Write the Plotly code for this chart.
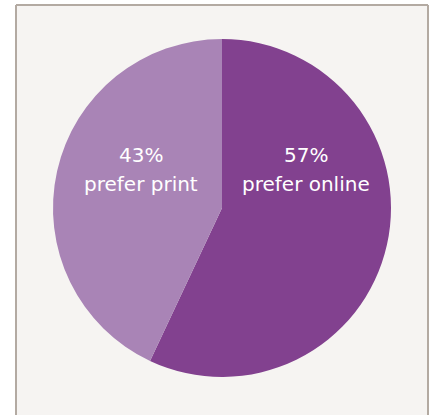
import plotly.graph_objs as go

labels = ['prefer online', 'prefer print']
values = [57, 43]
colors = ['#82418f', '#a984b6']

W, H = 431, 415
# pie circle bounds in page pixels
cx, cy, r = 222, 208, 169


def px(x):
    return x / W


def py(y):
    return 1 - y / H


pie = go.Pie(labels=labels,
             values=values,
             sort=False,
             direction='clockwise',
             rotation=0,
             marker={'colors': colors, 'line': {'width': 0}},
             textinfo='none',
             hoverinfo='label+percent',
             domain={'x': [px(cx - r), px(cx + r)],
                     'y': [py(cy + r), py(cy - r)]},
             showlegend=False)

font = {'color': 'white', 'size': 20, 'family': 'DejaVu Sans'}
text_x = [306, 141]
annotations = []
for lab, val, tx in zip(labels, values, text_x):
    annotations.append({'x': px(tx), 'y': py(154.5),
                        'xref': 'paper', 'yref': 'paper',
                        'xanchor': 'center', 'yanchor': 'middle',
                        'text': '%d%%' % val,
                        'showarrow': False, 'font': font})
    annotations.append({'x': px(tx), 'y': py(183.5),
                        'xref': 'paper', 'yref': 'paper',
                        'xanchor': 'center', 'yanchor': 'middle',
                        'text': lab,
                        'showarrow': False, 'font': font})

line = {'color': '#b3aaa2', 'width': 2}
left, right, top = 16, 428, 5
shapes = [
    {'type': 'rect', 'xref': 'paper', 'yref': 'paper', 'layer': 'below',
     'x0': px(left), 'x1': px(right), 'y0': 0, 'y1': py(top),
     'fillcolor': '#f6f4f2', 'line': {'width': 0}},
    {'type': 'line', 'xref': 'paper', 'yref': 'paper',
     'x0': px(left), 'x1': px(left), 'y0': 0, 'y1': py(top), 'line': line},
    {'type': 'line', 'xref': 'paper', 'yref': 'paper',
     'x0': px(left), 'x1': px(right), 'y0': py(top), 'y1': py(top), 'line': line},
    {'type': 'line', 'xref': 'paper', 'yref': 'paper',
     'x0': px(right), 'x1': px(right), 'y0': 0, 'y1': py(top), 'line': line},
]

layout = go.Layout(width=W, height=H,
                   margin={'l': 0, 'r': 0, 't': 0, 'b': 0},
                   paper_bgcolor='white',
                   plot_bgcolor='white',
                   shapes=shapes,
                   annotations=annotations)

fig = go.Figure(data=[pie], layout=layout)
# drop the default 8px page margin so the figure sits at the window corner
fig.write_html("out.html",
               config={'displayModeBar': False},
               post_script="document.body.style.margin='0';")
